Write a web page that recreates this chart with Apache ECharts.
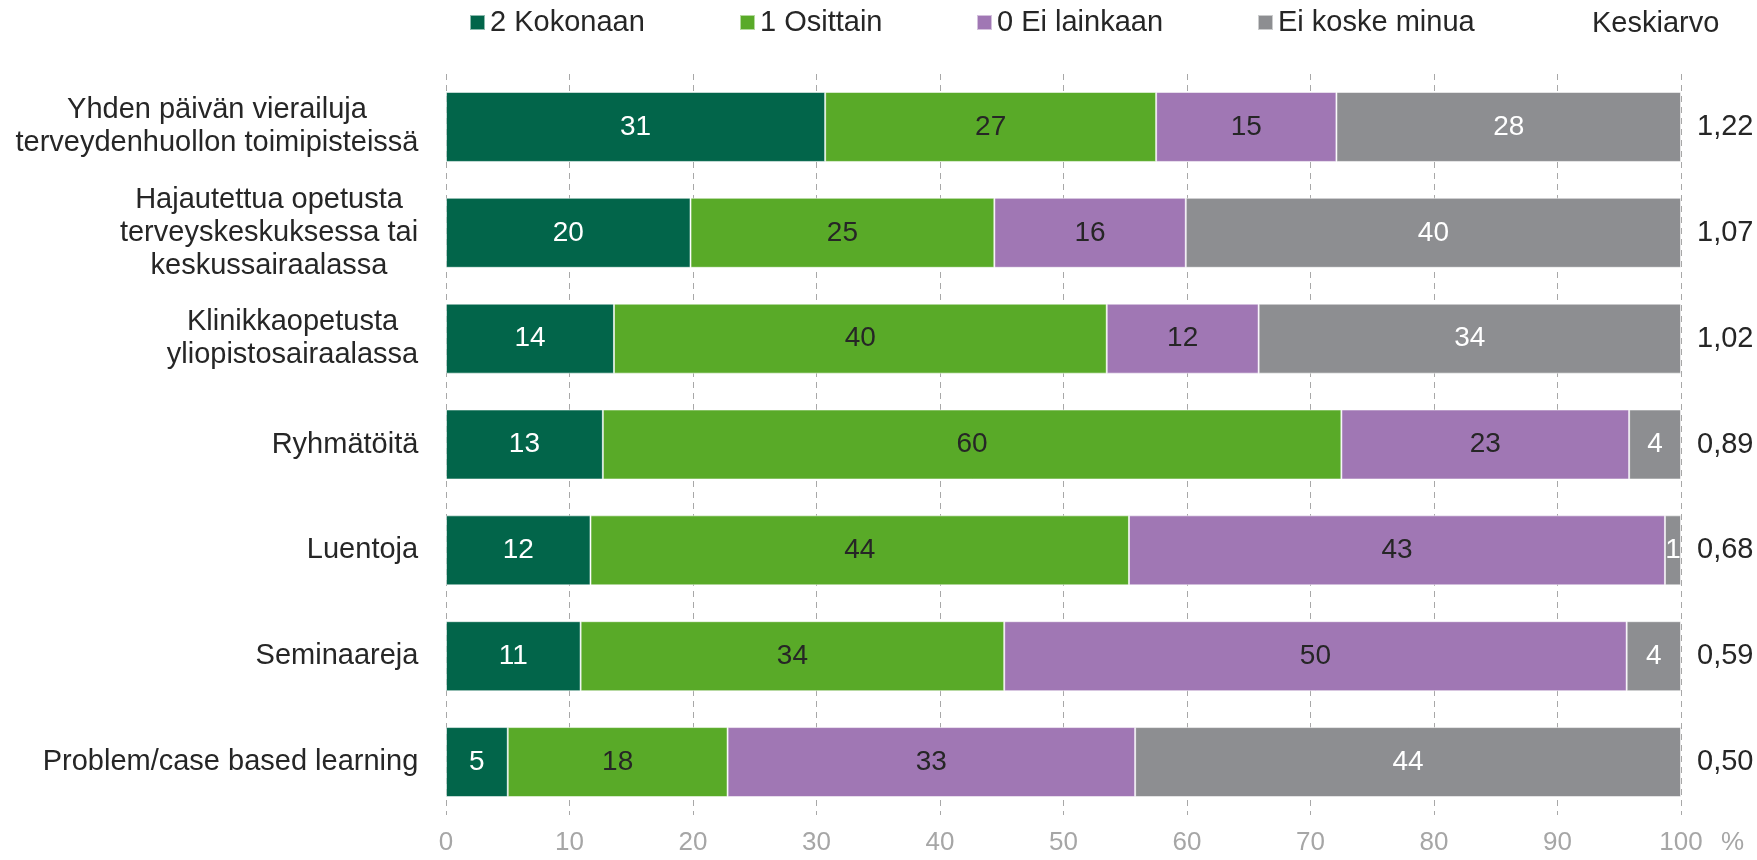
<!DOCTYPE html>
<html>
<head>
<meta charset="utf-8">
<title>Opetusmuodot</title>
<script src="https://cdn.jsdelivr.net/npm/echarts@6/dist/echarts.min.js"></script>
<style>
html, body { margin: 0; padding: 0; background: #fff; }
</style>
</head>
<body>
<div id="main" style="width:1757px;height:860px"></div>
<script>
// data (% of answers)
var categories = [
    'Yhden päivän vierailuja\nterveydenhuollon toimipisteissä',
    'Hajautettua opetusta\nterveyskeskuksessa tai\nkeskussairaalassa',
    'Klinikkaopetusta\nyliopistosairaalassa',
    'Ryhmätöitä',
    'Luentoja',
    'Seminaareja',
    'Problem/case based learning'
];
var kokonaan   = [30.7, 19.8, 13.6, 12.7, 11.7, 10.9, 5.0];
var osittain   = [26.8, 24.6, 39.9, 59.8, 43.6, 34.3, 17.8];
var eiLainkaan = [14.6, 15.5, 12.3, 23.3, 43.4, 50.4, 33.0];
var eiKoske    = [27.9, 40.1, 34.2, 4.2, 1.3, 4.4, 44.2];
var keskiarvo  = ['1,22', '1,07', '1,02', '0,89', '0,68', '0,59', '0,50'];
var seriesNames = ['2 Kokonaan', '1 Osittain', '0 Ei lainkaan', 'Ei koske minua'];
var colors = ['#02654a', '#59aa28', '#a077b4', '#8d8e91'];
var labelColors = ['#fff', '#262626', '#262626', '#fff'];

var FONT = 'Liberation Sans';

// leveimmän rivin leveys, jotta rivit saadaan keskitettyä
var cv = document.createElement('canvas').getContext('2d');
cv.font = '29px "' + FONT + '"';
var rich = {};
categories.forEach(function (c, i) {
    var w = 0;
    c.split('\n').forEach(function (l) {
        w = Math.max(w, cv.measureText(l).width);
    });
    rich['c' + i] = {
        width: Math.ceil(w) + 1,
        align: 'center',
        fontSize: 29,
        lineHeight: 33,
        color: '#262626',
        fontFamily: FONT
    };
});

function makeSeries(name, values, k) {
    return {
        name: name,
        type: 'bar',
        stack: 'all',
        barWidth: 70,
        data: values,
        itemStyle: {
            color: colors[k],
            borderColor: 'rgba(255,255,255,0.55)',
            borderWidth: 1
        },
        label: {
            show: true,
            position: 'inside',
            fontSize: 28,
            fontFamily: FONT,
            color: labelColors[k],
            formatter: function (p) { return Math.round(p.value); }
        },
        emphasis: { disabled: true }
    };
}

var legendLeft = [469, 739, 976, 1257];

option = {
    animation: false,
    textStyle: { fontFamily: FONT },
    color: colors,
    legend: seriesNames.map(function (n, k) {
        return {
            data: [n],
            left: legendLeft[k],
            top: 8,
            padding: 0,
            icon: 'rect',
            itemWidth: 15,
            itemHeight: 15,
            selectedMode: false,
            textStyle: { fontSize: 29, color: '#262626', fontFamily: FONT }
        };
    }),
    graphic: [{
        type: 'text',
        left: 1592,
        top: 9,
        style: {
            text: 'Keskiarvo',
            font: '29px "' + FONT + '"',
            fill: '#262626'
        }
    }],
    grid: {
        left: 446,
        right: 76,
        top: 74,
        bottom: 45
    },
    xAxis: {
        type: 'value',
        min: 0,
        max: 100,
        interval: 10,
        name: '%',
        nameLocation: 'end',
        nameGap: 40,
        nameTextStyle: {
            fontSize: 26,
            color: '#a6a6a6',
            verticalAlign: 'top',
            padding: [15, 0, 0, 0]
        },
        axisLine: { show: false },
        axisTick: { show: false },
        axisLabel: {
            fontSize: 26,
            color: '#a6a6a6',
            margin: 15
        },
        splitLine: {
            show: true,
            lineStyle: {
                color: '#a8a8a8',
                type: [6, 5],
                width: 1
            }
        }
    },
    yAxis: [{
        type: 'category',
        inverse: true,
        data: categories,
        axisLine: { show: false },
        axisTick: { show: false },
        axisLabel: {
            margin: 27,
            formatter: function (value, idx) {
                return value.split('\n').map(function (l) {
                    return '{c' + idx + '|' + l + '}';
                }).join('\n');
            },
            rich: rich
        }
    }, {
        type: 'category',
        inverse: true,
        position: 'right',
        data: keskiarvo,
        axisLine: { show: false },
        axisTick: { show: false },
        axisLabel: {
            margin: 16,
            fontSize: 29,
            color: '#262626'
        }
    }],
    series: [
        makeSeries(seriesNames[0], kokonaan, 0),
        makeSeries(seriesNames[1], osittain, 1),
        makeSeries(seriesNames[2], eiLainkaan, 2),
        makeSeries(seriesNames[3], eiKoske, 3)
    ]
};

var myChart = echarts.init(document.getElementById('main'));
myChart.setOption(option);
</script>
</body>
</html>
